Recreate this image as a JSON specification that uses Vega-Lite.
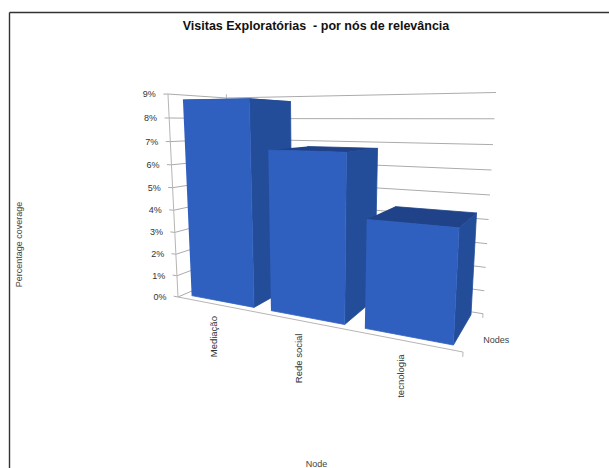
{
  "$schema": "https://vega.github.io/schema/vega-lite/v6.json",
  "width": 600,
  "height": 456,
  "padding": {"left": 9, "top": 12, "right": 0, "bottom": 0},
  "autosize": {"type": "none"},
  "background": "white",
  "config": {"view": {"stroke": null}, "text": {"font": "Liberation Sans"}},
  "title": {
    "text": "Visitas Exploratórias \u00a0- por nós de relevância",
    "font": "Liberation Sans",
    "fontSize": 12.5,
    "fontWeight": "bold",
    "color": "#111111",
    "anchor": "middle",
    "dx": 7,
    "offset": -20
  },
  "datasets": {
    "nodes": [
      {"node": "Mediação", "value": 8.76},
      {"node": "Rede social", "value": 6.75},
      {"node": "tecnologia", "value": 4.29}
    ],
    "ticks": [
      {"value": 0}, {"value": 1}, {"value": 2}, {"value": 3}, {"value": 4},
      {"value": 5}, {"value": 6}, {"value": 7}, {"value": 8}, {"value": 9}
    ],
    "edges": [
      {"edge": "side wall"},
      {"edge": "back corner"},
      {"edge": "floor front"},
      {"edge": "back tick"}
    ]
  },
  "encoding": {
    "x": {
      "field": "X",
      "type": "quantitative",
      "scale": {"domain": [9, 609], "nice": false, "zero": false},
      "axis": {
        "orient": "top",
        "domain": true,
        "domainColor": "#333333",
        "domainWidth": 1.4,
        "ticks": false,
        "labels": false,
        "grid": false,
        "title": "Node",
        "titleFont": "Liberation Sans",
        "titleFontSize": 9,
        "titleFontWeight": "normal",
        "titleColor": "#444444",
        "titleX": 307,
        "titleY": 454,
        "titleAnchor": "middle",
        "titleBaseline": "alphabetic"
      }
    },
    "y": {
      "field": "Y",
      "type": "quantitative",
      "scale": {"domain": [468, 12], "nice": false, "zero": false},
      "axis": {
        "orient": "left",
        "domain": true,
        "domainColor": "#333333",
        "domainWidth": 1.4,
        "ticks": false,
        "labels": false,
        "grid": false,
        "title": "Percentage coverage",
        "titleFont": "Liberation Sans",
        "titleFontSize": 9,
        "titleFontWeight": "normal",
        "titleColor": "#444444",
        "titleX": 14,
        "titleY": 232,
        "titleAnchor": "middle",
        "titleAngle": 270
      }
    }
  },
  "layer": [
    {
      "description": "Percentage gridlines running along the side wall and the back wall",
      "data": {"name": "ticks"},
      "transform": [
        {"calculate": "[0,1,2,3]", "as": "vertex"},
        {"flatten": ["vertex"]},
        {"calculate": "[-0.02,0,0,1][datum.vertex]", "as": "u"},
        {"calculate": "[0,0,1,1][datum.vertex]", "as": "d"},
        {"calculate": "datum.value/9", "as": "h"},
        {"calculate": "(178+176.2*datum.u+89.2*datum.d-21.3*datum.h)/(1-0.235*datum.u+0.153*datum.d-0.0671*datum.h)", "as": "X"},
        {"calculate": "(297-27.7*datum.u+18.7*datum.d-209.3*datum.h)/(1-0.235*datum.u+0.153*datum.d-0.0671*datum.h)", "as": "Y"}
      ],
      "mark": {"type": "line", "stroke": "#ababab", "strokeWidth": 1, "interpolate": "linear"},
      "encoding": {
        "detail": {"field": "value", "type": "nominal"},
        "order": {"field": "vertex", "type": "quantitative"}
      }
    },
    {
      "description": "Wall edges, the front edge of the floor and the small end ticks",
      "data": {"name": "edges"},
      "transform": [
        {"calculate": "{'side wall':[[0,0,0],[0,0,1]],'back corner':[[0,1,0],[0,1,1.02]],'floor front':[[0,0,0],[1,0,0],[1,0,-0.02]],'back tick':[[1,1,0],[1,1,-0.02]]}[datum.edge]", "as": "point"},
        {"flatten": ["point"]},
        {"window": [{"op": "row_number", "as": "vertex"}], "groupby": ["edge"]},
        {"calculate": "datum.point[0]", "as": "u"},
        {"calculate": "datum.point[1]", "as": "d"},
        {"calculate": "datum.point[2]", "as": "h"},
        {"calculate": "(178+176.2*datum.u+89.2*datum.d-21.3*datum.h)/(1-0.235*datum.u+0.153*datum.d-0.0671*datum.h)", "as": "X"},
        {"calculate": "(297-27.7*datum.u+18.7*datum.d-209.3*datum.h)/(1-0.235*datum.u+0.153*datum.d-0.0671*datum.h)", "as": "Y"}
      ],
      "mark": {"type": "line", "stroke": "#b8b4b4", "strokeWidth": 1},
      "encoding": {
        "detail": {"field": "edge", "type": "nominal"},
        "order": {"field": "vertex", "type": "quantitative"}
      }
    },
    {
      "description": "Each bar is three filled faces, painted back to front, in perspective from its value",
      "data": {"name": "nodes"},
      "transform": [
        {"calculate": "indexof(['Mediação','Rede social','tecnologia'],datum.node)", "as": "i"},
        {"calculate": "['top','side','front']", "as": "face"},
        {"flatten": ["face"]},
        {"calculate": "[0,1,2,3]", "as": "vertex"},
        {"flatten": ["vertex"]},
        {"calculate": "datum.node+' '+datum.face", "as": "part"},
        {"calculate": "0.0333+0.3333*datum.i+0.2667*{'top':[0,1,1,0],'side':[1,1,1,1],'front':[0,1,1,0]}[datum.face][datum.vertex]", "as": "u"},
        {"calculate": "0.105+0.81*{'top':[0,0,1,1],'side':[0,1,1,0],'front':[0,0,0,0]}[datum.face][datum.vertex]", "as": "d"},
        {"calculate": "datum.value/9*{'top':[1,1,1,1],'side':[0,0,1,1],'front':[0,0,1,1]}[datum.face][datum.vertex]", "as": "h"},
        {"calculate": "(178+176.2*datum.u+89.2*datum.d-21.3*datum.h)/(1-0.235*datum.u+0.153*datum.d-0.0671*datum.h)", "as": "X"},
        {"calculate": "(297-27.7*datum.u+18.7*datum.d-209.3*datum.h)/(1-0.235*datum.u+0.153*datum.d-0.0671*datum.h)", "as": "Y"}
      ],
      "mark": {"type": "line", "strokeWidth": 0.8, "strokeJoin": "round"},
      "encoding": {
        "detail": {"field": "part", "type": "nominal"},
        "order": {"field": "vertex", "type": "quantitative"},
        "fill": {
          "field": "face",
          "type": "nominal",
          "legend": null,
          "scale": {"domain": ["top", "side", "front"], "range": ["#1f4289", "#244d99", "#2f5fbf"]}
        },
        "stroke": {
          "field": "face",
          "type": "nominal",
          "legend": null,
          "scale": {"domain": ["top", "side", "front"], "range": ["#1f4289", "#244d99", "#2f5fbf"]}
        }
      }
    },
    {
      "description": "Percentage labels beside the side wall",
      "data": {"name": "ticks"},
      "transform": [
        {"calculate": "datum.value+'%'", "as": "label"},
        {"calculate": "datum.value/9", "as": "h"},
        {"calculate": "(178-11.5-21.3*datum.h)/(1-0.0671*datum.h)", "as": "X"},
        {"calculate": "(297-209.3*datum.h)/(1-0.0671*datum.h)", "as": "Y"}
      ],
      "mark": {"type": "text", "align": "right", "baseline": "middle", "fontSize": 9, "color": "#333333"},
      "encoding": {"text": {"field": "label", "type": "nominal"}}
    },
    {
      "description": "Node names under the floor edge, reading upward",
      "data": {"name": "nodes"},
      "transform": [
        {"calculate": "indexof(['Mediação','Rede social','tecnologia'],datum.node)", "as": "i"},
        {"calculate": "0.1667+0.3333*datum.i", "as": "u"},
        {"calculate": "-0.06", "as": "h"},
        {"calculate": "(178+176.2*datum.u-21.3*datum.h)/(1-0.235*datum.u-0.0671*datum.h)-2.5", "as": "X"},
        {"calculate": "(297-27.7*datum.u-209.3*datum.h)/(1-0.235*datum.u-0.0671*datum.h)", "as": "Y"}
      ],
      "mark": {"type": "text", "angle": 270, "align": "right", "baseline": "middle", "fontSize": 9.5, "color": "#333333"},
      "encoding": {"text": {"field": "node", "type": "nominal"}}
    },
    {
      "description": "Name of the depth axis, beyond the right edge of the floor",
      "data": {"values": [{"label": "Nodes"}]},
      "transform": [
        {"calculate": "1.065", "as": "u"},
        {"calculate": "0.5", "as": "d"},
        {"calculate": "-0.02", "as": "h"},
        {"calculate": "(178+176.2*datum.u+89.2*datum.d-21.3*datum.h)/(1-0.235*datum.u+0.153*datum.d-0.0671*datum.h)", "as": "X"},
        {"calculate": "(297-27.7*datum.u+18.7*datum.d-209.3*datum.h)/(1-0.235*datum.u+0.153*datum.d-0.0671*datum.h)", "as": "Y"}
      ],
      "mark": {"type": "text", "align": "center", "baseline": "middle", "fontSize": 9, "color": "#444444"},
      "encoding": {"text": {"field": "label", "type": "nominal"}}
    }
  ]
}
